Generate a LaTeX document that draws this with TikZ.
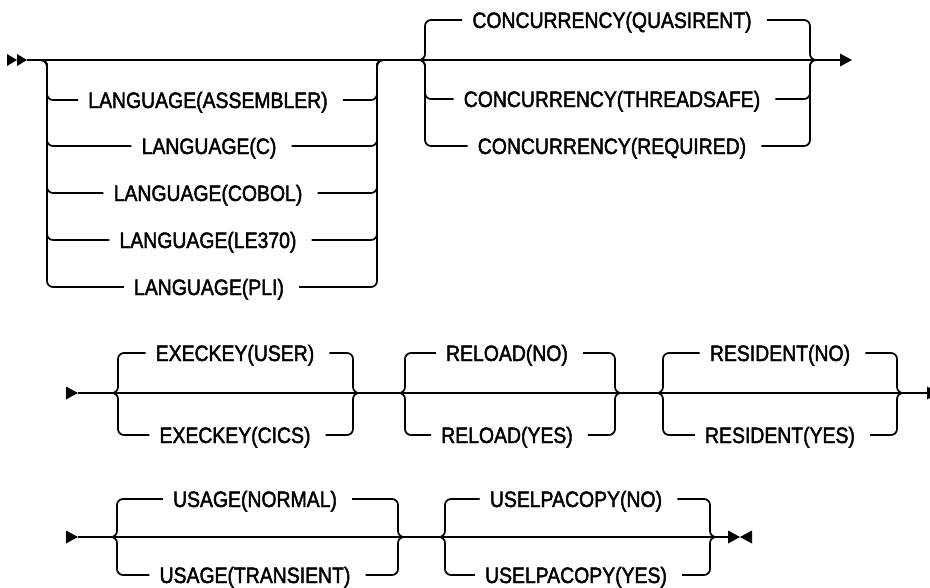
\documentclass[tikz,border=0pt]{standalone}
\usepackage{fontspec}
\setmainfont{Liberation Sans}
\newfontfamily\railfont[FakeStretch=0.87,FakeBold=2]{Liberation Sans}
\tikzset{
  rail/.style={line width=1.7pt, rounded corners=6pt},
  mainrail/.style={line width=1.7pt},
  lbl/.style={inner sep=0pt, text height=16pt, text depth=0pt, font=\railfont\fontsize{22.3}{25}\selectfont},
}
% #1 name, #2 left vertical x, #3 right vertical x, #4 main y, #5 branch y, #6 text centre x, #7 text
\newcommand\railbranch[7]{%
  \node[lbl] (#1) at (#6,#5) {#7};
  \draw[rail] (#2-12,#4) -- (#2,#4) -- (#2,#5) -- ([xshift=-10pt]#1.west);
  \draw[rail] ([xshift=15pt]#1.east) -- (#3,#5) -- (#3,#4) -- (#3+12,#4);
}
% right-pointing triangle with tip at (#1,#2)
\newcommand\railtipR[2]{\fill (#1-12,#2-6.5) -- (#1,#2) -- (#1-12,#2+6.5) -- cycle;}
\newcommand\railtipL[2]{\fill (#1+12,#2-6.5) -- (#1,#2) -- (#1+12,#2+6.5) -- cycle;}
\begin{document}
\begin{tikzpicture}[x=1pt,y=-1pt]
\useasboundingbox[fill=white] (0,0) rectangle (930,587);
% ---------- row 1 ----------
\coordinate (r1s) at (27,60);
\coordinate (r1e) at (841,60);
\fill (7,54) -- (17,60) -- (7,66) -- cycle;
\fill (17,54) -- (27,60) -- (17,66) -- cycle;
\draw[mainrail] (r1s) -- (r1e);
\railtipR{852}{60}
\railbranch{lasm}{47}{377}{60}{100}{208}{LANGUAGE(ASSEMBLER)}
\railbranch{lc}{47}{377}{60}{146}{209}{LANGUAGE(C)}
\railbranch{lcob}{47}{377}{60}{193}{208}{LANGUAGE(COBOL)}
\railbranch{lle}{47}{377}{60}{240}{208}{LANGUAGE(LE370)}
\railbranch{lpli}{47}{377}{60}{287}{209}{LANGUAGE(PLI)}
\railbranch{cq}{425}{810}{60}{20}{612}{CONCURRENCY(QUASIRENT)}
\railbranch{ct}{425}{810}{60}{99}{612}{CONCURRENCY(THREADSAFE)}
\railbranch{cr}{425}{810}{60}{146}{612}{CONCURRENCY(REQUIRED)}
% ---------- row 2 ----------
\coordinate (r2s) at (78,393);
\coordinate (r2e) at (930,393);
\railtipR{78}{393}
\draw[mainrail] (r2s) -- (r2e);
\railtipR{939}{393}
\railbranch{eu}{118}{353}{393}{353}{235}{EXECKEY(USER)}
\railbranch{ec}{118}{353}{393}{435}{235}{EXECKEY(CICS)}
\railbranch{rn}{405}{615}{393}{353}{507}{RELOAD(NO)}
\railbranch{ry}{405}{615}{393}{435}{507}{RELOAD(YES)}
\railbranch{sn}{663}{897}{393}{353}{780}{RESIDENT(NO)}
\railbranch{sy}{663}{897}{393}{435}{780}{RESIDENT(YES)}
% ---------- row 3 ----------
\coordinate (r3s) at (78,537);
\coordinate (r3e) at (730,537);
\railtipR{78}{537}
\draw[mainrail] (r3s) -- (r3e);
\railtipR{740}{537}
\railtipL{740}{537}
\railbranch{un}{117}{398}{537}{499}{255}{USAGE(NORMAL)}
\railbranch{ut}{117}{398}{537}{575}{255}{USAGE(TRANSIENT)}
\railbranch{pn}{445}{710}{537}{499}{576}{USELPACOPY(NO)}
\railbranch{py}{445}{710}{537}{575}{576}{USELPACOPY(YES)}
\end{tikzpicture}
\end{document}
